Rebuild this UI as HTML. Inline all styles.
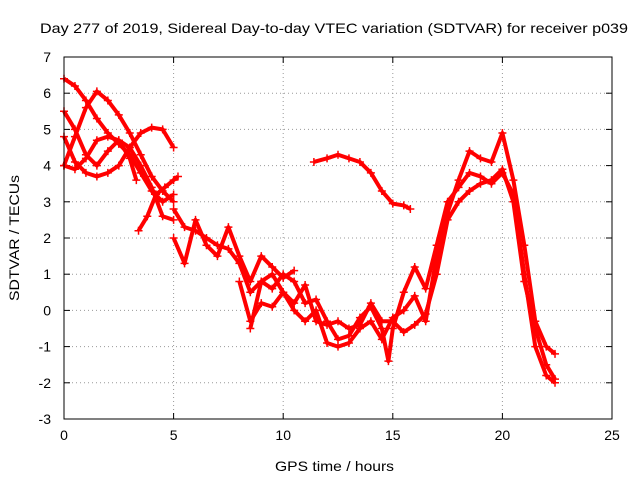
<!DOCTYPE html>
<html><head><meta charset="utf-8"><style>
body{margin:0;background:#fff}
svg text{font-family:"Liberation Sans",sans-serif;font-size:14px;fill:#000}
</style></head><body>
<svg id="chart" width="640" height="480">
<text x="40" y="33" textLength="588" lengthAdjust="spacingAndGlyphs">Day 277 of 2019, Sidereal Day-to-day VTEC variation (SDTVAR) for receiver p039</text>
<text x="275" y="471" textLength="119" lengthAdjust="spacingAndGlyphs">GPS time / hours</text>
<text transform="translate(19,301) rotate(-90)" textLength="126" lengthAdjust="spacingAndGlyphs">SDTVAR / TECUs</text>
<g id="grid"></g><g id="series"></g>
<rect x="64" y="57" width="548" height="362" fill="none" stroke="#000"/>
</svg>
<script>
const xTicks=[0,5,10,15,20,25];
const yTicks=[-3,-2,-1,0,1,2,3,4,5,6,7];
const trackA=[[0,6.4],[0.5,6.2],[1,5.8],[1.5,5.3],[2,4.9],[2.5,4.6],[3,4.3],[3.5,3.8],[4,3.3],[4.5,3.0],[5,3.2]];
const trackA2=[[3.4,2.2],[3.8,2.6],[4.2,3.2],[4.6,3.4],[5,3.6],[5.2,3.7]];
const trackMain=[[5,2.8],[5.5,2.3],[6,2.2],[6.5,2.0],[7,1.8],[7.5,1.7],[8,1.3],[8.5,0.5],[9,0.8],[9.5,0.6],[10,1.0],[10.5,0.8],[11,0.2],[11.5,0.3],[12,-0.3],[12.5,-0.8],[13,-0.7],[13.5,-0.2],[14,0.1],[14.5,-0.5],[14.8,-1.4],[15,-0.5],[15.5,0.5],[16,1.2],[16.5,0.6],[17,1.8],[17.5,3.0],[18,3.4],[18.5,3.8],[19,3.7],[19.5,3.5],[20,3.8],[20.5,3.2],[21,1.0],[21.5,-1.0],[22,-1.8],[22.4,-2.0]];
const trackB=[[0,5.5],[0.5,5.0],[1,4.3],[1.5,4.0],[2,4.4],[2.5,4.7],[3,4.5],[3.5,4.0],[4,3.4],[4.5,2.6],[5,2.5]];
const trackPeak=[[0,4.0],[0.5,4.8],[1,5.6],[1.5,6.05],[2,5.8],[2.5,5.4],[3,4.9],[3.5,4.3],[4,3.7],[4.5,3.3],[5,3.0]];
const trackC=[[0,4.8],[0.5,4.1],[1,3.8],[1.5,3.7],[2,3.8],[2.5,4.0],[3,4.5],[3.5,4.9],[4,5.05],[4.5,5.0],[5,4.5]];
const trackD=[[0,4.0],[0.5,3.9],[1,4.2],[1.5,4.7],[2,4.8],[2.5,4.7],[3,4.2],[3.3,3.6]];
const trackMid=[[11.4,4.1],[12,4.2],[12.5,4.3],[13,4.2],[13.5,4.1],[14,3.8],[14.5,3.3],[15,2.95],[15.5,2.9],[15.8,2.8]];
const trackE=[[8,0.8],[8.5,-0.3],[9,0.2],[9.5,0.1],[10,0.5],[10.5,0.2],[11,0.7],[11.5,-0.3],[12,-0.4],[12.5,-0.3],[13,-0.5],[13.5,-0.4],[14,0.2],[14.5,-0.3],[15,-0.3],[15.5,-0.6],[16,-0.4],[16.5,-0.1],[17,1.0],[17.5,2.5],[18,3.0],[18.5,3.3],[19,3.5],[19.5,3.6],[20,3.9],[20.5,3.0],[21,0.8],[21.5,-0.5],[22,-1.5],[22.4,-1.9]];
const trackF=[[8.5,-0.5],[9,0.8],[9.5,1.0],[10,0.5],[10.5,0.0],[11,-0.3],[11.5,0.0],[12,-0.9],[12.5,-1.0],[13,-0.9],[13.5,-0.5],[14,-0.3],[14.5,-0.8],[15,-0.2],[15.5,0.0],[16,0.4],[16.5,-0.3],[17,1.5],[17.5,2.7],[18,3.6],[18.5,4.4],[19,4.2],[19.5,4.1],[20,4.9],[20.5,3.6],[21,1.8],[21.5,-0.3],[22,-1.0],[22.4,-1.2]];
const trackG=[[5,2.0],[5.5,1.3],[6,2.5],[6.5,1.8],[7,1.5],[7.5,2.3],[8,1.5],[8.5,0.8],[9,1.5],[9.5,1.2],[10,0.9],[10.5,1.1]];
const tracks=[trackA,trackA2,trackMain,trackB,trackPeak,trackC,trackD,trackMid,trackE,trackF,trackG];

const NS="http://www.w3.org/2000/svg";
const X0=64,X1=612,Y0=419,Y1=57;
function sx(v){return X0+(v-0)/(25-0)*(X1-X0);}
function sy(v){return Y0-(v+3)/(7+3)*(Y0-Y1);}
const grid=document.getElementById('grid');
function mk(tag,attrs,parent){const e=document.createElementNS(NS,tag);for(const k in attrs)e.setAttribute(k,attrs[k]);parent.appendChild(e);return e;}
xTicks.forEach(t=>{
  const x=sx(t);
  if(t>0&&t<25){const l=mk('line',{x1:x,x2:x,y1:Y1,y2:Y0,stroke:'#999','stroke-dasharray':'1,3'},grid);
  
  }
  mk('line',{x1:x,x2:x,y1:Y0,y2:Y0-6,stroke:'#000'},grid);
  mk('line',{x1:x,x2:x,y1:Y1,y2:Y1+6,stroke:'#000'},grid);
  const tx=mk('text',{x:x,y:Y0+21,'text-anchor':'middle'},grid);tx.textContent=t;
  
  
});
yTicks.forEach(t=>{
  const y=sy(t);
  if(t>-3&&t<7){const l=mk('line',{x1:X0,x2:X1,y1:y,y2:y,stroke:'#999','stroke-dasharray':'1,3'},grid);
  
  }
  mk('line',{x1:X0,x2:X0+6,y1:y,y2:y,stroke:'#000'},grid);
  mk('line',{x1:X1,x2:X1-6,y1:y,y2:y,stroke:'#000'},grid);
  const tx=mk('text',{x:X0-13,y:y+5,'text-anchor':'end'},grid);tx.textContent=t;
  
  
});
const sg=document.getElementById('series');
tracks.forEach(tr=>{
  const g=mk('g',{},sg);
  
  
  const pl=mk('polyline',{points:tr.map(p=>sx(p[0])+','+sy(p[1])).join(' '),fill:'none',stroke:'#f00','stroke-width':4,'stroke-linejoin':'round'},g);
  
  
  tr.forEach(p=>{
    const x=sx(p[0]),y=sy(p[1]);
    const m=mk('path',{d:`M${x-4},${y}h8M${x},${y-4}v8`,stroke:'#f00','stroke-width':1.5},g);
    
    
  });
});
</script>
</body></html>
